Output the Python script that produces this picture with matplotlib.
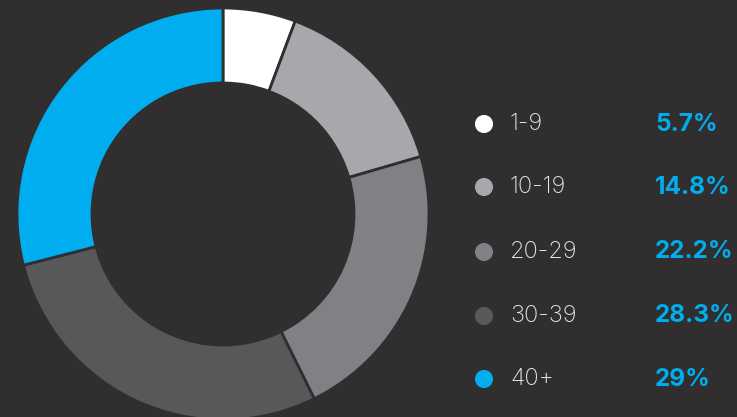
import matplotlib.pyplot as plt

plt.rcParams['font.family'] = ['Inter', 'DejaVu Sans']

labels = ['1-9', '10-19', '20-29', '30-39', '40+']
shares = [5.7, 14.8, 22.2, 28.3, 29]
share_text = ['5.7%', '14.8%', '22.2%', '28.3%', '29%']
colors = ['#ffffff', '#a7a8ab', '#808184', '#58585a', '#00aeef']

bg = '#302e2f'
W, H = 737, 417

fig = plt.figure(figsize=(W / 100, H / 100), dpi=100)
fig.patch.set_facecolor(bg)

# donut, centre ~ (223, 214) px, radius ~206 px
cx, cy, r = 223, 214, 206
ax = fig.add_axes([(cx - r) / W, (H - cy - r) / H, 2 * r / W, 2 * r / H])
ax.set_facecolor(bg)
ax.pie(shares, colors=colors, startangle=90, counterclock=False, radius=1,
       wedgeprops=dict(width=0.364, edgecolor=bg, linewidth=2))
ax.set_xlim(-1, 1)
ax.set_ylim(-1, 1)
ax.set_aspect('equal')
ax.set_axis_off()

# legend drawn by hand on a pixel axis
lax = fig.add_axes([0, 0, 1, 1])
lax.set_xlim(0, W)
lax.set_ylim(H, 0)
lax.set_axis_off()
lax.patch.set_alpha(0)

row_y = [124, 187, 252, 316, 379]
for y, lab, txt, c in zip(row_y, labels, share_text, colors):
    lax.scatter(484, y, s=170, color=c, edgecolors='none')
    lax.text(510, y, lab, color='#e6e6e6', fontsize=17, fontweight='light',
             va='center', ha='left')
    lax.text(655, y, txt, color='#00aeef', fontsize=17.5, fontweight='bold',
             va='center', ha='left')

fig.savefig('out.png', dpi=100, facecolor=bg)
